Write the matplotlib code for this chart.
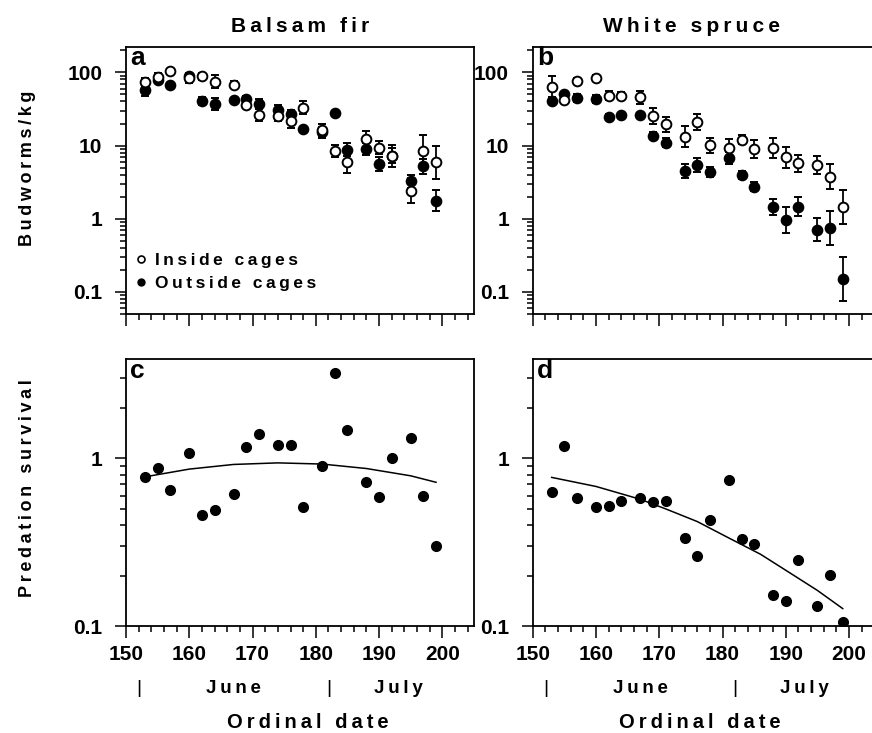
#!/usr/bin/env python3
"""Budworm densities inside/outside cages and predation survival, fir vs spruce."""

import matplotlib

matplotlib.use("Agg")
import matplotlib.pyplot as plt
import matplotlib.transforms as mtransforms
import numpy as np
from matplotlib import ticker

plt.rcParams["font.family"] = ["Liberation Sans", "DejaVu Sans"]
plt.rcParams["font.weight"] = "bold"

# Ordinal dates of the samples (same in every panel)
DATES = [153, 155, 157, 160, 162, 164, 167, 169, 171, 174, 176,
         178, 181, 183, 185, 188, 190, 192, 195, 197, 199]

# Budworms/kg, balsam fir (panel a); errors are log10 half-widths
FIR_IN = [74, 86.5, 103, 84, 88, 75, 68, 36, 26, 25.3, 21.8,
          33, 16.1, 8.5, 5.9, 12.4, 9.4, 7.3, 2.43, 8.5, 5.9]
FIR_IN_ERR = [0.055, 0.055, 0.035, 0.07, 0.045, 0.095, 0.045, 0.035, 0.08, 0.07, 0.1,
              0.085, 0.09, 0.085, 0.14, 0.11, 0.095, 0.15, 0.165, 0.21, 0.23]
FIR_OUT = [56.7, 77.6, 68, 90, 41, 37.3, 41.9, 43.3, 37, 30.6, 27.2,
           16.8, 15.1, 27.9, 8.8, 9.0, 5.6, 7.3, 3.23, 5.2, 1.77]
FIR_OUT_ERR = [0.07, 0.035, 0.025, 0.04, 0.055, 0.08, 0.03, 0.04, 0.07, 0.065, 0.055,
               0.035, 0.08, 0.02, 0.085, 0.08, 0.1, 0.1, 0.09, 0.1, 0.14]

# Budworms/kg, white spruce (panel b)
SPRUCE_IN = [63.7, 42.3, 76, 83.6, 47.9, 47.9, 45.5, 25, 19.4, 13.2, 20.9,
             10.1, 9.3, 12.1, 8.9, 9.3, 6.9, 5.7, 5.4, 3.76, 1.45]
SPRUCE_IN_ERR = [0.14, 0.04, 0.04, 0.04, 0.06, 0.05, 0.09, 0.11, 0.105, 0.14, 0.11,
                 0.105, 0.12, 0.065, 0.12, 0.14, 0.14, 0.12, 0.125, 0.175, 0.23]
SPRUCE_OUT = [40.1, 50.5, 44.5, 43.1, 24.7, 26.3, 26.3, 13.7, 10.9, 4.5, 5.4,
              4.4, 6.8, 3.96, 2.74, 1.46, 0.97, 1.45, 0.71, 0.75, 0.152]
SPRUCE_OUT_ERR = [0.03, 0.03, 0.05, 0.05, 0.04, 0.03, 0.03, 0.05, 0.06, 0.09, 0.1,
                  0.07, 0.08, 0.05, 0.06, 0.11, 0.18, 0.13, 0.155, 0.23, 0.3]

# Predation survival (panels c, d)
FIR_SURV = [0.77, 0.88, 0.645, 1.07, 0.457, 0.49, 0.61, 1.17, 1.39, 1.2, 1.2,
            0.51, 0.90, 3.25, 1.48, 0.72, 0.586, 1.01, 1.32, 0.60, 0.30]
SPRUCE_SURV = [0.63, 1.19, 0.58, 0.51, 0.52, 0.557, 0.58, 0.55, 0.56, 0.337, 0.26,
               0.426, 0.74, 0.33, 0.31, 0.153, 0.141, 0.249, 0.131, 0.202, 0.106]

# Fitted curves
FIR_FIT_X = [153, 160, 167, 174, 181, 188, 195, 199]
FIR_FIT_Y = [0.776, 0.863, 0.92, 0.94, 0.925, 0.87, 0.787, 0.72]
SPRUCE_FIT_X = [153, 160, 164, 167, 171, 176, 181, 186, 190, 195, 199]
SPRUCE_FIT_Y = [0.77, 0.68, 0.615, 0.57, 0.50, 0.42, 0.335, 0.268, 0.215, 0.163, 0.127]

W, H = 872, 733
FS = 15


def spaced(s):
    # the original lettering is widely tracked
    return "\u2009".join(s)


def add_axes(fig, left, top, w=348, h=266.7):
    return fig.add_axes([left / W, 1 - (top + h) / H, w / W, h / H])


def style_axes(ax, ylim, show_xlabels):
    ax.set_yscale("log")
    ax.set_xlim(150, 205)
    ax.set_ylim(*ylim)
    ax.xaxis.set_major_locator(ticker.MultipleLocator(10))
    ax.xaxis.set_minor_locator(ticker.MultipleLocator(2))
    ax.yaxis.set_major_locator(ticker.LogLocator(base=10))
    ax.yaxis.set_minor_locator(ticker.LogLocator(base=10, subs=np.arange(2, 10)))
    ax.yaxis.set_major_formatter(ticker.FuncFormatter(lambda v, p: f"{v:g}"))
    ax.yaxis.set_minor_formatter(ticker.NullFormatter())
    for s in ax.spines.values():
        s.set_linewidth(1.3)
    ax.tick_params(axis="both", which="both", direction="out", width=1.1,
                   top=False, right=False, labelsize=FS)
    ax.tick_params(axis="x", which="major", length=8.5, pad=5)
    ax.tick_params(axis="x", which="minor", length=4.5)
    ax.tick_params(axis="y", which="major", length=8, pad=9)
    ax.tick_params(axis="y", which="minor", length=4.5)
    if not show_xlabels:
        ax.tick_params(axis="x", which="both", labelbottom=False)


def log_err(vals, errs):
    v = np.asarray(vals, float)
    e = np.asarray(errs, float)
    return [v - v / 10 ** e, v * 10 ** e - v]


def density_panel(ax, y_in, e_in, y_out, e_out, letter):
    kw = dict(fmt="o", ms=7, mew=1.4, mec="black", ecolor="black",
              elinewidth=1.3, capsize=2.6, capthick=1.3)
    ax.errorbar(DATES, y_out, yerr=log_err(y_out, e_out), mfc="black", zorder=3, **kw)
    ax.errorbar(DATES, y_in, yerr=log_err(y_in, e_in), mfc="white", zorder=4, **kw)
    style_axes(ax, (0.05, 220), False)
    ax.text(0.012, 0.934, letter, transform=ax.transAxes, fontsize=19, va="baseline")


def survival_panel(ax, surv, fit_x, fit_y, letter):
    ax.plot(DATES, surv, "o", color="black", ms=7, zorder=3)
    ax.plot(fit_x, fit_y, "-", color="black", lw=1.1)
    style_axes(ax, (0.1, 3.9), True)
    ax.text(0.012, 0.93, letter, transform=ax.transAxes, fontsize=19, va="baseline")
    trans = mtransforms.blended_transform_factory(ax.transData, ax.transAxes)
    for d in (152, 182):
        ax.text(d, -0.2325, "|", transform=trans, ha="center", va="center",
                fontsize=14, fontweight="normal", clip_on=False)
    ax.text(167, -0.2325, spaced("June"), transform=trans, ha="center", va="center",
            fontsize=13.5)
    ax.text(193, -0.2325, spaced("July"), transform=trans, ha="center", va="center",
            fontsize=13.5)


def main():
    fig = plt.figure(figsize=(W / 100, H / 100), dpi=100)
    ax_a = add_axes(fig, 126, 47.3)
    ax_b = add_axes(fig, 532.7, 47.3)
    ax_c = add_axes(fig, 126, 359.3)
    ax_d = add_axes(fig, 532.7, 359.3)

    density_panel(ax_a, FIR_IN, FIR_IN_ERR, FIR_OUT, FIR_OUT_ERR, "a")
    density_panel(ax_b, SPRUCE_IN, SPRUCE_IN_ERR, SPRUCE_OUT, SPRUCE_OUT_ERR, "b")
    survival_panel(ax_c, FIR_SURV, FIR_FIT_X, FIR_FIT_Y, "c")
    survival_panel(ax_d, SPRUCE_SURV, SPRUCE_FIT_X, SPRUCE_FIT_Y, "d")

    # legend in panel a
    h_in, = ax_a.plot([], [], "o", mfc="white", mec="black", mew=1.2, ms=5)
    h_out, = ax_a.plot([], [], "o", mfc="black", mec="black", ms=5)
    ax_a.legend([h_in, h_out], [spaced("Inside cages"), spaced("Outside cages")],
                loc="lower left", bbox_to_anchor=(0.028, 0.085), frameon=False,
                fontsize=12.5, handlelength=0.6, handletextpad=0.5,
                labelspacing=0.45, borderaxespad=0, borderpad=0)

    fig.text(300 / W, 1 - 26 / H, spaced("Balsam fir"), ha="center", va="center",
             fontsize=FS)
    fig.text(691 / W, 1 - 26 / H, spaced("White spruce"), ha="center", va="center",
             fontsize=FS)
    fig.text(28 / W, 1 - 168 / H, spaced("Budworms/kg"), rotation=90,
             ha="center", va="center", fontsize=13)
    fig.text(28 / W, 1 - 488 / H, spaced("Predation survival"), rotation=90,
             ha="center", va="center", fontsize=13)
    fig.text(308 / W, 1 - 722.7 / H, spaced("Ordinal date"), ha="center",
             va="center", fontsize=14.5)
    fig.text(700 / W, 1 - 722.7 / H, spaced("Ordinal date"), ha="center",
             va="center", fontsize=14.5)

    fig.savefig("out.png", dpi=100)
    plt.close(fig)


if __name__ == "__main__":
    main()
